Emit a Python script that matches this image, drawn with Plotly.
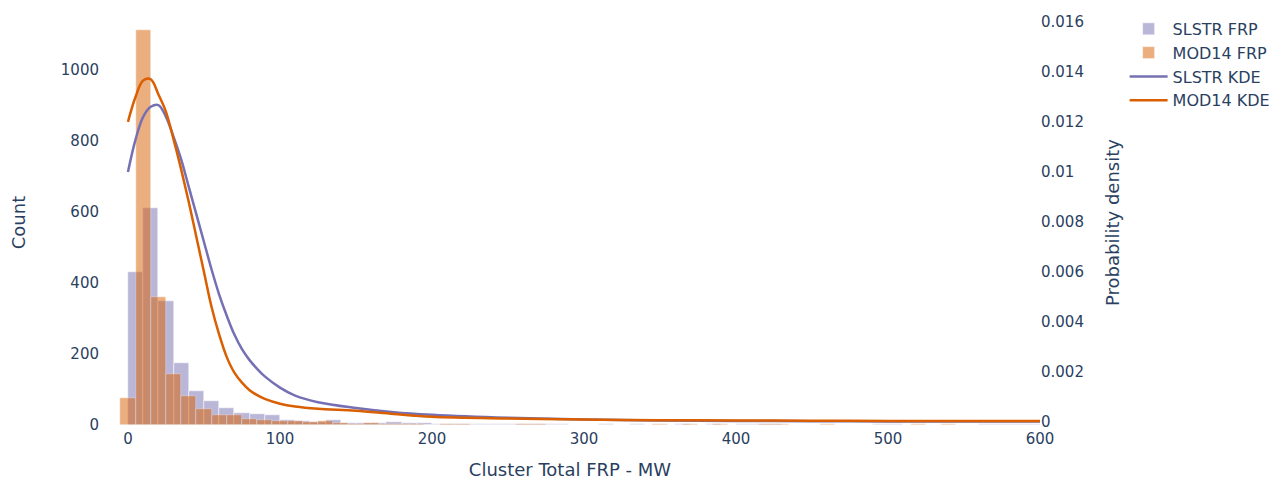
import plotly.graph_objects as go

# histogram bin centres and counts (bin width 10 MW)
slstr_centers = list(range(5, 600, 10))
slstr_counts = [
    430, 610, 350, 175, 96, 68, 48, 34, 30, 28,
    14, 12, 8, 13, 6, 7, 6, 8, 7, 5,
    3, 2, 4, 4, 2, 3, 4, 4, 3, 1,
    0, 2, 0, 2, 1, 0, 2, 1, 2, 1,
    2, 2, 2, 1, 0, 0, 0, 0, 0, 2,
    2, 1, 0, 0, 0, 0, 2, 2, 2, 2,
]

mod14_centers = list(range(0, 610, 10))
mod14_counts = [
    77, 1113, 360, 144, 83, 46, 28, 27, 18, 15,
    12, 10, 9, 10, 6, 4, 5, 3, 3, 2,
    1, 3, 2, 0, 1, 0, 2, 2, 1, 0,
    1, 0, 0, 0, 0, 2, 0, 2, 0, 2,
    0, 0, 2, 2, 0, 0, 2, 0, 0, 0,
    0, 0, 2, 0, 2, 0, 0, 0, 0, 0, 0,
]

# kernel density estimates
kde_x = [0, 5, 10, 15, 20, 25, 30, 35, 40, 45, 50, 55, 60, 65, 70, 75, 80, 85,
         90, 100, 110, 125, 150, 175, 200, 250, 300, 350, 400, 450, 500, 550, 600]
slstr_kde = [0.0100, 0.0113, 0.0122, 0.0126, 0.01267, 0.0122, 0.0114, 0.0105,
             0.0094, 0.0083, 0.0072, 0.0061, 0.0051, 0.00425, 0.0035, 0.00292,
             0.00248, 0.00213, 0.00183, 0.00138, 0.00106, 0.00080, 0.00057,
             0.00040, 0.00030, 0.00018, 0.00011, 0.00007, 0.00005, 0.00004,
             0.00003, 0.00003, 0.00003]
mod14_kde = [0.0120, 0.0130, 0.01365, 0.0137, 0.0131, 0.0124, 0.0113, 0.0101,
             0.0088, 0.0074, 0.0060, 0.0046, 0.0035, 0.0026, 0.00198, 0.00158,
             0.00128, 0.00108, 0.00093, 0.00074, 0.00063, 0.00054, 0.00046,
             0.00033, 0.00022, 0.00015, 0.00011, 0.00008, 0.00007, 0.00006,
             0.00005, 0.00005, 0.00005]

purple = '#7570b3'
orange = '#d95f02'
text_col = '#2a3f5f'

fig = go.Figure()

fig.add_trace(go.Bar(
    x=slstr_centers, y=slstr_counts, width=10,
    name='SLSTR FRP', marker_color=purple, opacity=0.5,
))
fig.add_trace(go.Bar(
    x=mod14_centers, y=mod14_counts, width=10,
    name='MOD14 FRP', marker_color=orange, opacity=0.5,
))
fig.add_trace(go.Scatter(
    x=kde_x, y=slstr_kde, mode='lines', line_shape='spline',
    name='SLSTR KDE', line=dict(color=purple, width=2.5), yaxis='y2',
))
fig.add_trace(go.Scatter(
    x=kde_x, y=mod14_kde, mode='lines', line_shape='spline',
    name='MOD14 KDE', line=dict(color=orange, width=2.5), yaxis='y2',
))

# page body adds an 8px offset, so the figure is sized to what is left of the window
fig.update_layout(
    template='plotly_white',
    width=1274, height=472,
    margin=dict(l=92, r=242, t=12, b=55, autoexpand=False),
    barmode='overlay', bargap=0,
    font=dict(family='Verdana, DejaVu Sans, sans-serif', size=15, color=text_col),
    xaxis=dict(
        title=dict(text='Cluster Total FRP - MW', font=dict(size=18), standoff=19),
        range=[-18.4, 600], tickvals=[0, 100, 200, 300, 400, 500, 600],
        showgrid=False, zeroline=False, ticklabelstandoff=3, automargin=False,
    ),
    yaxis=dict(
        title=dict(text='Count', font=dict(size=18), standoff=30),
        range=[0, 1140], dtick=200, showgrid=False, zeroline=False,
        automargin=False,
    ),
    yaxis2=dict(
        title=dict(text='Probability density', font=dict(size=18), standoff=23),
        overlaying='y', side='right',
        range=[-0.000112, 0.016068], dtick=0.002,
        showgrid=False, zeroline=False, automargin=False,
    ),
    legend=dict(x=1.090, y=1.020, xanchor='left', yanchor='top', itemwidth=38,
                font=dict(size=16), bgcolor='rgba(0,0,0,0)'),
)

fig.write_html("out.html")
